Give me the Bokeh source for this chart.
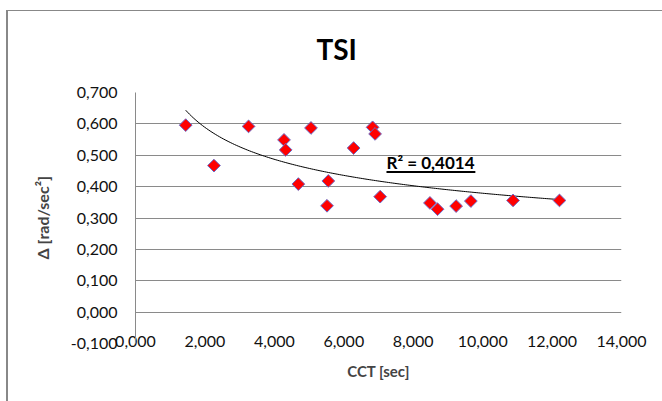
import numpy as np
from bokeh.plotting import figure
from bokeh.models import Range1d, FixedTicker, CustomJSTickFormatter, Label, ColumnDataSource
from bokeh.embed import file_html
from bokeh.resources import INLINE

# ---- data ----
cct_sec = [1.446, 2.260, 3.257, 4.278, 4.326, 4.691, 5.055, 5.554, 5.517, 6.283,
           6.830, 6.902, 7.048, 8.482, 8.701, 9.236, 9.661, 10.876, 12.213]
delta = [0.596, 0.467, 0.592, 0.549, 0.517, 0.408, 0.587, 0.418, 0.339, 0.523,
         0.589, 0.568, 0.368, 0.348, 0.328, 0.338, 0.354, 0.356, 0.356]
x_ticks = [0, 2, 4, 6, 8, 10, 12, 14]
y_ticks = [-0.1, 0.0, 0.1, 0.2, 0.3, 0.4, 0.5, 0.6, 0.7]
title_text = "TSI"
x_label = "CCT [sec]"
y_label = "Δ [rad/sec²]"
r2_text = "R² = 0,4014"

FONT = "Lato"
GRID = "#8a8a8a"

p = figure(width=656, height=399,
           x_range=Range1d(x_ticks[0], x_ticks[-1]),
           y_range=Range1d(y_ticks[0], y_ticks[-1]),
           output_backend="svg", toolbar_location=None,
           min_border_left=129, min_border_right=41,
           min_border_top=90, min_border_bottom=58)
p.outline_line_color = None
p.background_fill_color = "white"
p.border_fill_alpha = 0
# chart-area outline (left and top edges) drawn behind the transparent border area
p.styles = {
    "margin-left": "6px", "margin-top": "2px",
    "background": ("linear-gradient(#888888, #888888) 0px 8px / 100% 1px no-repeat, "
                   "linear-gradient(#888888, #888888) 0px 8px / 2px 100% no-repeat, white"),
}

# title
p.title.text = title_text
p.title.align = "left"
p.title.offset = 181
p.title.text_font = FONT
p.title.text_font_style = "bold"
p.title.text_font_size = "28px"
p.title.text_color = "black"
p.title.standoff = 54

fmt = CustomJSTickFormatter(code="return tick.toFixed(3).replace('.', ',');")

# y axis
ya = p.yaxis[0]
ya.ticker = FixedTicker(ticks=y_ticks)
ya.formatter = fmt
ya.major_tick_line_color = None
ya.minor_tick_line_color = None
ya.major_tick_out = 0
ya.major_tick_in = 0
ya.axis_line_color = GRID
ya.major_label_standoff = 18
ya.major_label_text_font = FONT
ya.major_label_text_font_size = "16px"
ya.major_label_text_color = "#111111"
ya.axis_label = y_label
ya.axis_label_text_font = FONT
ya.axis_label_text_font_style = "bold"
ya.axis_label_text_font_size = "16px"
ya.axis_label_standoff = 16

# x axis
xa = p.xaxis[0]
xa.ticker = FixedTicker(ticks=x_ticks)
xa.formatter = fmt
xa.major_tick_line_color = None
xa.minor_tick_line_color = None
xa.major_tick_out = 0
xa.major_tick_in = 0
xa.axis_line_color = None
xa.major_label_standoff = -8
xa.major_label_text_font = FONT
xa.major_label_text_font_size = "16px"
xa.major_label_text_color = "#111111"
xa.axis_label = x_label
xa.axis_label_text_font = FONT
xa.axis_label_text_font_style = "bold"
xa.axis_label_text_font_size = "15px"
xa.axis_label_standoff = 12

p.xgrid.visible = False
p.ygrid.ticker = FixedTicker(ticks=y_ticks)
p.ygrid.grid_line_color = GRID
p.ygrid.grid_line_width = 1

# power trendline fitted to the data (like Excel)
lx = np.log(np.array(cct_sec))
ly = np.log(np.array(delta))
d, lnc = np.polyfit(lx, ly, 1)
xt = np.linspace(min(cct_sec), max(cct_sec), 200)
yt = np.exp(lnc) * xt ** d
p.line(xt, yt, line_color="black", line_width=1)

src = ColumnDataSource(dict(x=cct_sec, y=delta))
p.scatter("x", "y", source=src, marker="square", angle=np.pi / 4, size=9,
          fill_color="#ff0000", line_color="#6b6bc8", line_width=1)

# R^2 annotation (underlined)
r2_x, r2_y = 7.23, 0.476
p.add_layout(Label(x=r2_x, y=r2_y, text=r2_text, text_align="left",
                   text_baseline="middle", text_font=FONT, text_font_style="bold",
                   text_font_size="17px", text_color="black"))
p.segment(x0=[r2_x], y0=[r2_y - 0.029], x1=[r2_x + 2.56], y1=[r2_y - 0.029],
          line_color="black", line_width=2)

open("out.html", "w").write(file_html(p, INLINE))
